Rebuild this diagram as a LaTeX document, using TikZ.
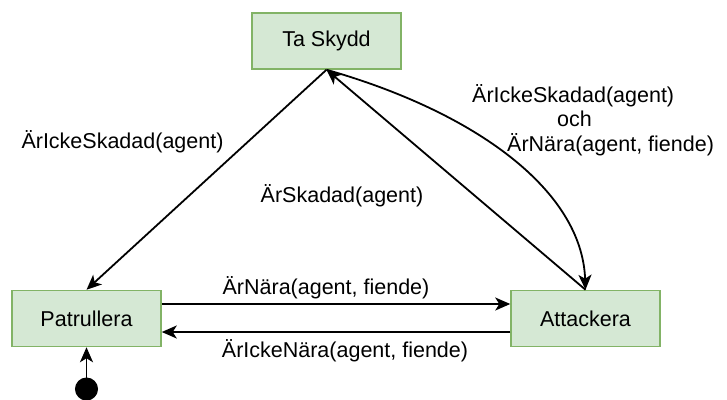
\documentclass[tikz,border=0pt]{standalone}
\usepackage{fontspec}
\setmainfont{Liberation Sans}
\usetikzlibrary{arrows.meta}
\definecolor{boxfill}{HTML}{D5E8D4}
\definecolor{boxline}{HTML}{82B366}
\begin{document}
\begin{tikzpicture}[x=1pt,y=-1pt,
  every node/.style={font=\fontsize{21.5}{24.5}\selectfont},
  state/.style={draw=boxline,fill=boxfill,line width=1.5pt,
    minimum width=149pt,minimum height=56pt,inner sep=0pt},
  trans/.style={line width=1.8pt,
    -{Stealth[length=15pt,width=13pt,inset=4pt]}},
  lbl/.style={inner sep=0pt}]
\useasboundingbox (0,0) rectangle (727,399);

% states
\node[state] (ts) at (326.5,41) {Ta Skydd};
\node[state] (pa) at (86.5,318.5) {Patrullera};
\node[state] (at) at (585.5,318.5) {Attackera};

% initial state
\node[circle,fill=black,draw=black,line width=1pt,minimum size=22pt,inner sep=0pt] (init) at (86.5,389) {};
\draw[trans] (init) -- (pa.south);

% transitions
\draw[trans] (ts.south) -- (pa.north);
\draw[trans] (at.north) -- (ts.south);
\draw[trans] (ts.south) .. controls (475,112) and (582,190) .. (at.north);
\draw[trans] ([yshift=14.5pt]pa.east) -- ([yshift=14.5pt]at.west);
\draw[trans] ([yshift=-13.5pt]at.west) -- ([yshift=-13.5pt]pa.east);

% transition labels
\node[lbl] (l1) at (122.5,142) {ÄrIckeSkadad(agent)};
\node[lbl] (l2) at (342,196) {ÄrSkadad(agent)};
\node[lbl,align=left,anchor=north west] (l3) at (472,84)
  {ÄrIckeSkadad(agent)\\\hspace*{85pt}och\\\hspace*{35pt}ÄrNära(agent, fiende)};
\node[lbl] (l4) at (326,288) {ÄrNära(agent, fiende)};
\node[lbl] (l5) at (345,351) {ÄrIckeNära(agent, fiende)};
\end{tikzpicture}
\end{document}
